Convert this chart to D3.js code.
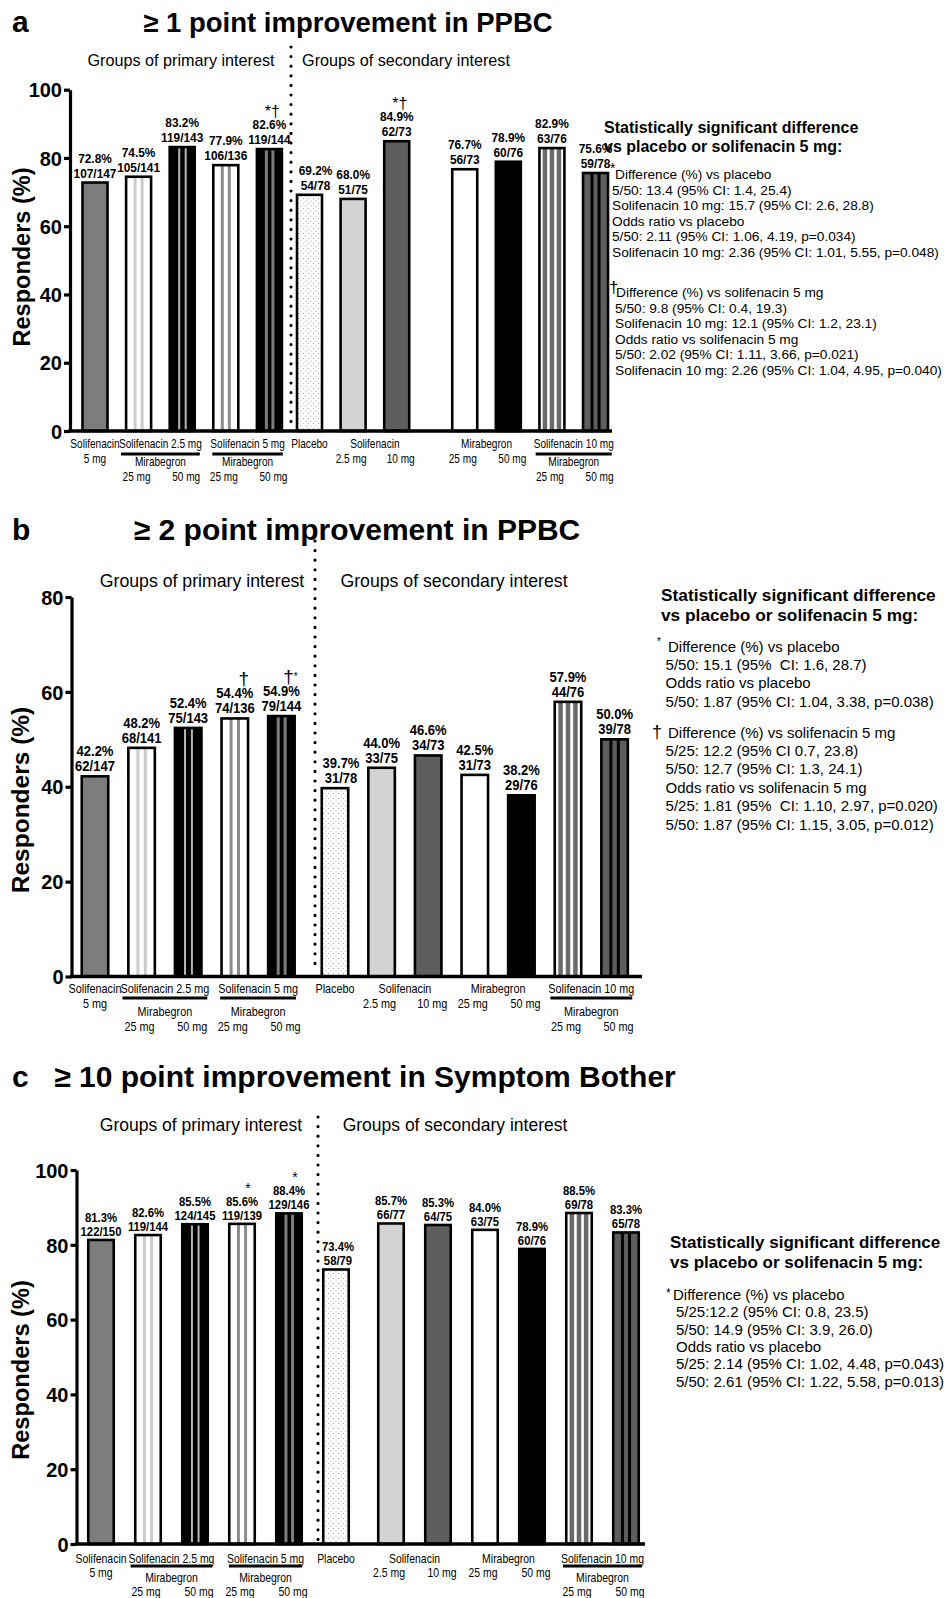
<!DOCTYPE html>
<html>
<head>
<meta charset="utf-8">
<script src="https://d3js.org/d3.v7.min.js"></script>
<style>
  body { margin: 0; background: #fff; }
  text { font-family: "Liberation Sans", Arial, sans-serif; white-space: pre; }
</style>
</head>
<body>
<svg id="fig" width="949" height="1598"></svg>
<script>
// treatment groups, same order in every panel
const groups = ["Solifenacin 5 mg", "Solifenacin 2.5 mg + Mirabegron 25 mg", "Solifenacin 2.5 mg + Mirabegron 50 mg",
  "Solifenacin 5 mg + Mirabegron 25 mg", "Solifenacin 5 mg + Mirabegron 50 mg", "Placebo",
  "Solifenacin 2.5 mg", "Solifenacin 10 mg", "Mirabegron 25 mg", "Mirabegron 50 mg",
  "Solifenacin 10 mg + Mirabegron 25 mg", "Solifenacin 10 mg + Mirabegron 50 mg"];
const fillKeys = ["sol5", "s25m25", "s25m50", "s5m25", "s5m50", "pbo", "sol25", "sol10", "mir25", "mir50", "s10m25", "s10m50"];

// a: >= 1 point improvement in PPBC
const pctA = [72.8, 74.5, 83.2, 77.9, 82.6, 69.2, 68.0, 84.9, 76.7, 78.9, 82.9, 75.6];
const nA = ["107/147", "105/141", "119/143", "106/136", "119/144", "54/78", "51/75", "62/73", "56/73", "60/76", "63/76", "59/78"];
const markA = ["", "", "", "", "*†", "", "", "*†", "", "", "", ""];
const ticksA = [0, 20, 40, 60, 80, 100];

// b: >= 2 point improvement in PPBC
const pctB = [42.2, 48.2, 52.4, 54.4, 54.9, 39.7, 44.0, 46.6, 42.5, 38.2, 57.9, 50.0];
const nB = ["62/147", "68/141", "75/143", "74/136", "79/144", "31/78", "33/75", "34/73", "31/73", "29/76", "44/76", "39/78"];
const markB = ["", "", "", "†", "†*", "", "", "", "", "", "", ""];
const ticksB = [0, 20, 40, 60, 80];

// c: >= 10 point improvement in Symptom Bother
const pctC = [81.3, 82.6, 85.5, 85.6, 88.4, 73.4, 85.7, 85.3, 84.0, 78.9, 88.5, 83.3];
const nC = ["122/150", "119/144", "124/145", "119/139", "129/146", "58/79", "66/77", "64/75", "63/75", "60/76", "69/78", "65/78"];
const markC = ["", "", "", "*", "*", "", "", "", "", "", "", ""];
const ticksC = [0, 20, 40, 60, 80, 100];

// category labels under the x axis
const xLabels = [
  { bars: [0], head: "Solifenacin", doses: ["5 mg"] },
  { bars: [1, 2], head: "Solifenacin 2.5 mg", mid: "Mirabegron", doses: ["25 mg", "50 mg"] },
  { bars: [3, 4], head: "Solifenacin 5 mg", mid: "Mirabegron", doses: ["25 mg", "50 mg"] },
  { bars: [5], head: "Placebo", doses: [] },
  { bars: [6, 7], head: "Solifenacin", doses: ["2.5 mg", "10 mg"] },
  { bars: [8, 9], head: "Mirabegron", doses: ["25 mg", "50 mg"] },
  { bars: [10, 11], head: "Solifenacin 10 mg", mid: "Mirabegron", doses: ["25 mg", "50 mg"] }
];

const noteHead = ["Statistically significant difference", "vs placebo or solifenacin 5 mg:"];
const notesA = [
  ["*", "Difference (%) vs placebo", "5/50: 13.4 (95% CI: 1.4, 25.4)", "Solifenacin 10 mg: 15.7 (95% CI: 2.6, 28.8)",
    "Odds ratio vs placebo", "5/50: 2.11 (95% CI: 1.06, 4.19, p=0.034)", "Solifenacin 10 mg: 2.36 (95% CI: 1.01, 5.55, p=0.048)"],
  ["†", "Difference (%) vs solifenacin 5 mg", "5/50: 9.8 (95% CI: 0.4, 19.3)", "Solifenacin 10 mg: 12.1 (95% CI: 1.2, 23.1)",
    "Odds ratio vs solifenacin 5 mg", "5/50: 2.02 (95% CI: 1.11, 3.66, p=0.021)", "Solifenacin 10 mg: 2.26 (95% CI: 1.04, 4.95, p=0.040)"]
];
const notesB = [
  ["*", "Difference (%) vs placebo", "5/50: 15.1 (95%  CI: 1.6, 28.7)", "Odds ratio vs placebo",
    "5/50: 1.87 (95% CI: 1.04, 3.38, p=0.038)"],
  ["†", "Difference (%) vs solifenacin 5 mg", "5/25: 12.2 (95% CI 0.7, 23.8)", "5/50: 12.7 (95% CI: 1.3, 24.1)",
    "Odds ratio vs solifenacin 5 mg", "5/25: 1.81 (95%  CI: 1.10, 2.97, p=0.020)", "5/50: 1.87 (95% CI: 1.15, 3.05, p=0.012)"]
];
const notesC = [
  ["*", "Difference (%) vs placebo", "5/25:12.2 (95% CI: 0.8, 23.5)", "5/50: 14.9 (95% CI: 3.9, 26.0)",
    "Odds ratio vs placebo", "5/25: 2.14 (95% CI: 1.02, 4.48, p=0.043)", "5/50: 2.61 (95% CI: 1.22, 5.58, p=0.013)"]
];

// bar fills: background, stripe colour, stripe fractions, stripe width
const barStyle = {
  sol5: { bg: "#7d7d7d" },
  s25m25: { bg: "#fff", stripe: "#cccccc", at: [0.36, 0.64], sw: 3 },
  s25m50: { bg: "#000", stripe: "#b5b5b5", at: [0.38, 0.64], sw: 2 },
  s5m25: { bg: "#fff", stripe: "#8c8c8c", at: [0.36, 0.64], sw: 3 },
  s5m50: { bg: "#000", stripe: "#7d7d7d", at: [0.38, 0.64], sw: 3 },
  pbo: { bg: "url(#dots)" },
  sol25: { bg: "#d3d3d3" },
  sol10: { bg: "#5e5e5e" },
  mir25: { bg: "#fff" },
  mir50: { bg: "#000" },
  s10m25: { bg: "#fff", stripe: "#6a6a6a", at: [0.22, 0.5, 0.78], sw: 4.5 },
  s10m50: { bg: "#5e5e5e", stripe: "#000", at: [0.36, 0.64], sw: 3 }
};

const panels = [
  { letter: "a", title: "≥ 1 point improvement in PPBC", pct: pctA, n: nA, mark: markA, ticks: ticksA, notes: notesA,
    yMax: 100, yTop: 89.7, yBottom: 431, axisX: 70, axisEnd: 612,
    x0: 95, step: 43.6, barW: 25, gaps: { 5: -0.08, 8: 0.56 }, divX: 291, divTop: 47,
    titleX: 348, titleY: 32, titleSize: 27.5, groupY: 66, groupSize: 16.2, primX: 181, secX: 406,
    ylabX: 30, ylabY: 257, ylabSize: 23.5, tickSize: 20,
    labSize: 13.5, labK: 0.88, lab1: 20, lab2: 5, pboDx: 6, markSize: 16, markDy: 32, markDx: 3, smallStar: false,
    xl: { size: 12, k: 0.84, row1: 448, row2: 463, rule: 454, mid: 466, dose: 481 },
    nx: 604, head: [133, 152], headSize: 16, noteSize: 13.7, lh: 15.5,
    blocks: [{ y: 179, symX: 610, symDy: -6, symSize: 14, textX: 615, bodyX: 612 },
             { y: 297, symX: 609, symDy: -4, symSize: 17, textX: 616, bodyX: 615 }] },
  { letter: "b", title: "≥ 2 point improvement in PPBC", pct: pctB, n: nB, mark: markB, ticks: ticksB, notes: notesB,
    yMax: 80, yTop: 597, yBottom: 976.5, axisX: 71.5, axisEnd: 642,
    x0: 95, step: 46.6, barW: 26.5, gaps: { 5: 0.15 }, divX: 315, divTop: 541,
    titleX: 357, titleY: 540, titleSize: 30, groupY: 587, groupSize: 17.7, primX: 202, secX: 454,
    ylabX: 29, ylabY: 800, ylabSize: 24.5, tickSize: 20,
    labSize: 14, labK: 0.93, lab1: 20, lab2: 5, pboDx: 6, markSize: 19, markDy: 33, markDx: 9, smallStar: true,
    xl: { size: 12.5, k: 0.865, row1: 992.5, row2: 1007.5, rule: 998, mid: 1015.5, dose: 1030.5 },
    nx: 661, head: [601, 621], headSize: 17.3, noteSize: 15, lh: 18.4,
    blocks: [{ y: 651.5, symX: 657, symDy: -7, symSize: 10, textX: 668, bodyX: 665.6 },
             { y: 737.5, symX: 652, symDy: 0, symSize: 18, textX: 668, bodyX: 665.6 }] },
  { letter: "c", title: "≥ 10 point improvement in Symptom Bother", pct: pctC, n: nC, mark: markC, ticks: ticksC, notes: notesC,
    yMax: 100, yTop: 1170, yBottom: 1544, axisX: 76.5, axisEnd: 645,
    x0: 101, step: 47, barW: 25.5, gaps: { 6: 0.17 }, divX: 318, divTop: 1117,
    titleX: 365, titleY: 1087, titleSize: 30, groupY: 1131, groupSize: 17.5, primX: 201, secX: 455,
    ylabX: 29, ylabY: 1370, ylabSize: 23.6, tickSize: 20,
    labSize: 13, labK: 0.87, lab1: 18, lab2: 4, pboDx: 2, markSize: 14, markDy: 31, markDx: 6, smallStar: false,
    xl: { size: 12, k: 0.87, row1: 1562.5, row2: 1577, rule: 1566, mid: 1582, dose: 1596 },
    nx: 670, head: [1248, 1268], headSize: 17, noteSize: 15, lh: 17.3,
    blocks: [{ y: 1300, symX: 666, symDy: -3, symSize: 12, textX: 673, bodyX: 676 }] }
];

const svg = d3.select("#fig");
const defs = svg.append("defs");
const dots = defs.append("pattern").attr("id", "dots").attr("patternUnits", "userSpaceOnUse")
  .attr("width", 5).attr("height", 5);
dots.append("rect").attr("width", 5).attr("height", 5).attr("fill", "#fff");
dots.append("circle").attr("cx", 1).attr("cy", 1).attr("r", 0.6).attr("fill", "#9a9a9a");
dots.append("circle").attr("cx", 3.5).attr("cy", 3.5).attr("r", 0.6).attr("fill", "#9a9a9a");

// condensed text: squeeze horizontally around the anchor point
function narrow(sel, x, y, k) {
  return sel.append("text").attr("transform", `translate(${x},${y}) scale(${k},1)`).attr("text-anchor", "middle");
}

panels.forEach(p => {
  const g = svg.append("g");
  const y = d3.scaleLinear().domain([0, p.yMax]).range([p.yBottom, p.yTop]);
  const x = d3.scaleLinear().domain([0, 1]).range([p.x0, p.x0 + p.step]);
  const slot = i => i + d3.sum(Object.keys(p.gaps), k => (i >= +k ? p.gaps[k] : 0));
  const cx = i => x(slot(i));

  // panel letter and title
  g.append("text").attr("x", 12).attr("y", p.titleY).attr("font-size", 30).attr("font-weight", "bold").text(p.letter);
  g.append("text").attr("x", p.titleX).attr("y", p.titleY).attr("text-anchor", "middle")
    .attr("font-size", p.titleSize).attr("font-weight", "bold").text(p.title);

  // group headers and divider
  g.append("text").attr("x", p.primX).attr("y", p.groupY).attr("text-anchor", "middle")
    .attr("font-size", p.groupSize).text("Groups of primary interest");
  g.append("text").attr("x", p.secX).attr("y", p.groupY).attr("text-anchor", "middle")
    .attr("font-size", p.groupSize).text("Groups of secondary interest");
  g.append("line").attr("x1", p.divX).attr("x2", p.divX).attr("y1", p.divTop).attr("y2", p.yBottom - 4)
    .attr("stroke", "#000").attr("stroke-width", 3.2).attr("stroke-linecap", "round")
    .attr("stroke-dasharray", "0 9.6");

  // bars
  const bars = g.selectAll("g.bar").data(groups).join("g").attr("class", "bar");
  bars.each(function (name, i) {
    const b = d3.select(this);
    const st = barStyle[fillKeys[i]];
    const left = cx(i) - p.barW / 2, top = y(p.pct[i]), h = y(0) - y(p.pct[i]);
    const lx = cx(i) + (name === "Placebo" ? p.pboDx : 0);
    b.append("rect").attr("x", left).attr("y", top).attr("width", p.barW).attr("height", h).attr("fill", st.bg);
    (st.at || []).forEach(f => {
      b.append("rect").attr("x", left + f * p.barW - st.sw / 2).attr("y", top)
        .attr("width", st.sw).attr("height", h).attr("fill", st.stripe);
    });
    b.append("rect").attr("x", left).attr("y", top).attr("width", p.barW).attr("height", h)
      .attr("fill", "none").attr("stroke", "#000").attr("stroke-width", 2.6);
    narrow(b, lx, top - p.lab1, p.labK).attr("font-size", p.labSize).attr("font-weight", "bold")
      .text(d3.format(".1f")(p.pct[i]) + "%");
    narrow(b, lx, top - p.lab2, p.labK).attr("font-size", p.labSize).attr("font-weight", "bold")
      .text(p.n[i]);
    if (p.mark[i]) {
      const m = b.append("text").attr("x", cx(i) + p.markDx).attr("y", top - p.markDy)
        .attr("text-anchor", "middle").attr("font-size", p.markSize);
      Array.from(p.mark[i]).forEach((ch, k) => {
        const small = p.smallStar && ch === "*" && k > 0;
        m.append("tspan").attr("font-size", small ? 10 : p.markSize).attr("dy", small ? -3 : 0).text(ch);
      });
    }
  });

  // y axis
  const ax = g.append("g").attr("transform", `translate(${p.axisX},0)`)
    .call(d3.axisLeft(y).tickValues(p.ticks).tickSize(6).tickSizeOuter(0).tickPadding(2));
  ax.attr("font-family", null).attr("font-size", null);
  ax.select(".domain").attr("stroke-width", 3.2);
  ax.selectAll(".tick line").attr("stroke-width", 3.2);
  ax.selectAll(".tick text").attr("font-size", p.tickSize).attr("font-weight", "bold").attr("dy", "0.36em");
  g.append("line").attr("x1", p.axisX - 1.6).attr("x2", p.axisEnd).attr("y1", y(0)).attr("y2", y(0))
    .attr("stroke", "#000").attr("stroke-width", 3.6);
  g.append("text").attr("transform", `translate(${p.ylabX},${p.ylabY}) rotate(-90)`)
    .attr("text-anchor", "middle").attr("font-size", p.ylabSize).attr("font-weight", "bold").text("Responders (%)");

  // x labels
  const xl = p.xl;
  xLabels.forEach(lab => {
    const mx = d3.mean(lab.bars, cx);
    const t = narrow(g, mx, xl.row1, xl.k).attr("font-size", xl.size).text(lab.head);
    if (lab.mid) {
      const w = t.node().getComputedTextLength() * xl.k;
      g.append("line").attr("x1", mx - w / 2 + 2).attr("x2", mx + w / 2 - 2).attr("y1", xl.rule).attr("y2", xl.rule)
        .attr("stroke", "#000").attr("stroke-width", 3);
      narrow(g, mx, xl.mid, xl.k).attr("font-size", xl.size).text(lab.mid);
    }
    lab.doses.forEach((d, k) => {
      const dx = lab.bars.length > 1 ? (k ? 4 : -2) : 0;
      narrow(g, cx(lab.bars[k]) + dx, lab.mid ? xl.dose : xl.row2, xl.k).attr("font-size", xl.size).text(d);
    });
  });

  // notes
  noteHead.forEach((h, k) => {
    g.append("text").attr("x", p.nx).attr("y", p.head[k]).attr("font-size", p.headSize).attr("font-weight", "bold").text(h);
  });
  p.notes.forEach((block, bi) => {
    const L = p.blocks[bi];
    g.append("text").attr("x", L.symX).attr("y", L.y + L.symDy).attr("font-size", L.symSize).text(block[0]);
    block.slice(1).forEach((line, k) => {
      g.append("text").attr("x", k ? L.bodyX : L.textX).attr("y", L.y + k * p.lh)
        .attr("font-size", p.noteSize).text(line);
    });
  });
});
</script>
</body>
</html>
